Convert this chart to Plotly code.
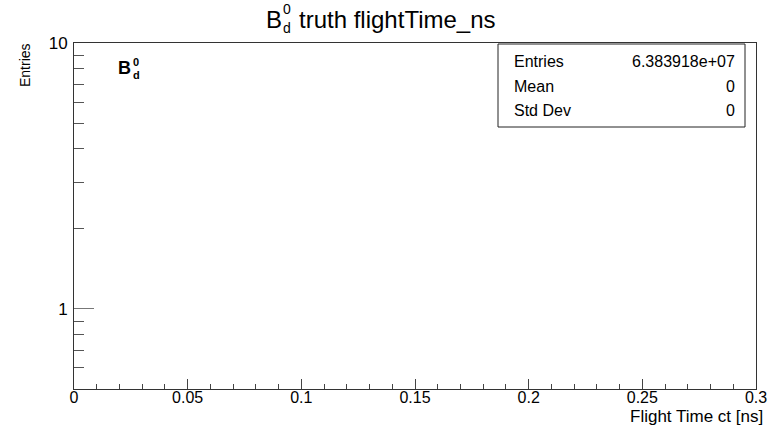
import math
import plotly.graph_objects as go

# ---- data (histogram is empty in the visible range) ----
bin_centers = []          # no filled bins visible
bin_counts = []
x_tick_vals = [0, 0.05, 0.1, 0.15, 0.2, 0.25, 0.3]
x_tick_text = ["0", "0.05", "0.1", "0.15", "0.2", "0.25", "0.3"]
x_minor_vals = [0.01, 0.02, 0.03, 0.04, 0.06, 0.07, 0.08, 0.09, 0.11, 0.12, 0.13, 0.14,
                0.16, 0.17, 0.18, 0.19, 0.21, 0.22, 0.23, 0.24, 0.26, 0.27, 0.28, 0.29]
y_tick_vals = [1, 10]
y_tick_text = ["1", "10"]
y_minor_vals = [0.6, 0.7, 0.8, 0.9, 2, 3, 4, 5, 6, 7, 8, 9]
x_range = [0, 0.3]
y_range = [0.5, 10]
stat_labels = ["Entries", "Mean", "Std Dev"]
stat_values = ["6.383918e+07", "0", "0"]

W, H = 773, 427
L, R, T, B = 74, 756, 43, 389          # plot frame in page pixels
pw, ph = R - L, B - T


def px(xp):
    return (xp - L) / pw


def py(yp):
    return (B - yp) / ph


FONT = "Liberation Sans, Arial, Helvetica, sans-serif"
TXT = "#000000"

fig = go.Figure()
fig.add_trace(go.Bar(x=bin_centers, y=bin_counts, marker_color="#3366cc", showlegend=False))

fig.update_layout(
    width=W, height=H,
    margin=dict(l=L, r=W - R, t=T, b=H - B, pad=0, autoexpand=False),
    paper_bgcolor="white", plot_bgcolor="white",
    font=dict(family=FONT, color=TXT),
    showlegend=False,
)

fig.update_xaxes(
    range=x_range, tickmode="array", tickvals=x_tick_vals, ticktext=x_tick_text,
    ticks="inside", ticklen=10, tickwidth=1, tickcolor="#444",
    showline=True, linecolor="#333", linewidth=1, mirror=True,
    showgrid=False, zeroline=False, automargin=False,
    tickfont=dict(family=FONT, size=16, color=TXT), ticklabelstandoff=-6,
    minor=dict(tickmode="array", tickvals=x_minor_vals, ticks="inside", ticklen=5,
               tickcolor="#444", tickwidth=1, showgrid=False),
)
fig.update_yaxes(
    type="log", range=[math.log10(y_range[0]), math.log10(y_range[1])],
    tickmode="array", tickvals=y_tick_vals, ticktext=y_tick_text,
    ticks="inside", ticklen=20, tickwidth=1, tickcolor="#777",
    showline=True, linecolor="#333", linewidth=1, mirror=True,
    showgrid=False, zeroline=False, automargin=False,
    tickfont=dict(family=FONT, size=17, color=TXT), ticklabelstandoff=2,
    minor=dict(tickmode="array", tickvals=y_minor_vals, ticks="inside", ticklen=10,
               tickcolor="#555", tickwidth=1, showgrid=False),
)

ann = []
# title pieces (stacked sub/superscript as in ROOT)
ann.append(dict(text="B", x=px(264), y=py(19), xanchor="left", yanchor="middle",
                font=dict(size=24)))
ann.append(dict(text="0", x=px(281), y=py(9), xanchor="left", yanchor="middle",
                font=dict(size=14)))
ann.append(dict(text="d", x=px(281), y=py(28), xanchor="left", yanchor="middle",
                font=dict(size=14)))
ann.append(dict(text="truth flightTime_ns", x=px(297), y=py(19), xanchor="left",
                yanchor="middle", font=dict(size=24)))
# in-plot label
ann.append(dict(text="<b>B</b>", x=px(116), y=py(68), xanchor="left", yanchor="middle",
                font=dict(size=18)))
ann.append(dict(text="<b>0</b>", x=px(131), y=py(62), xanchor="left", yanchor="middle",
                font=dict(size=11)))
ann.append(dict(text="<b>d</b>", x=px(131), y=py(75), xanchor="left", yanchor="middle",
                font=dict(size=11)))
# axis titles
ann.append(dict(text="Flight Time ct [ns]", x=px(765), y=py(416.5), xanchor="right",
                yanchor="middle", font=dict(size=17)))
ann.append(dict(text="Entries", x=px(25), y=py(41), xanchor="center", yanchor="top",
                textangle=-90, font=dict(size=14)))
# stats box
stat_y = [61, 86, 110.5]
for lab, val, yy in zip(stat_labels, stat_values, stat_y):
    ann.append(dict(text=lab, x=px(512), y=py(yy), xanchor="left", yanchor="middle",
                    font=dict(size=16)))
    ann.append(dict(text=val, x=px(737), y=py(yy), xanchor="right", yanchor="middle",
                    font=dict(size=16)))

for a in ann:
    a.update(xref="paper", yref="paper", showarrow=False)
    a["font"] = dict(family=FONT, color=TXT, **a["font"])
fig.update_layout(annotations=ann)

fig.add_shape(type="rect", xref="paper", yref="paper",
              x0=px(498), x1=px(745), y0=py(127), y1=py(44),
              line=dict(color="#222", width=1), fillcolor="white", layer="above")

# remove the browser's default 8px body margin so the figure fills the window
fig.write_html("out.html",
               config={"displayModeBar": False},
               post_script="document.body.style.margin='0px';"
                           "document.body.style.overflow='hidden';")
